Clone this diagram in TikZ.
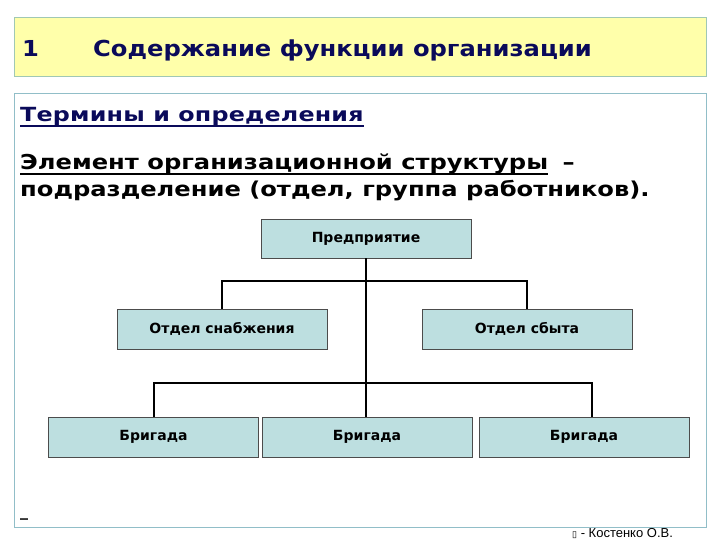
\documentclass[tikz,border=0pt]{standalone}
\usepackage{fontspec}
\setmainfont{DejaVu Sans}
\newfontfamily\termfont[FakeStretch=1.22,LetterSpace=1]{DejaVu Sans}
\newfontfamily\deffont[FakeStretch=1.18]{DejaVu Sans}
\newfontfamily\headfont[FakeStretch=1.1]{DejaVu Sans}
\newfontfamily\authorfont{Liberation Sans}
\usepackage{xcolor}
\usetikzlibrary{positioning}

\definecolor{titlefill}{RGB}{255,255,170}
\definecolor{titleline}{RGB}{160,200,180}
\definecolor{pageline}{RGB}{145,190,200}
\definecolor{boxblue}{RGB}{189,223,224}
\definecolor{navy}{RGB}{10,10,90}

\begin{document}
\begin{tikzpicture}[x=1pt, y=-1pt,
    orgbox/.style={draw=black!70, fill=boxblue, minimum width=210pt, minimum height=40pt,
      inner sep=0pt, font=\bfseries\fontsize{14}{16}\selectfont},
    plain/.style={anchor=base west, inner sep=0pt},
    tree/.style={line width=2pt}]
    \useasboundingbox (0,0) rectangle (720,540);

    % Title bar
    \draw[titleline, fill=titlefill, line width=1pt] (14,18) rectangle (706,77);
    \node[plain, text=navy, font=\headfont\bfseries\fontsize{22}{25}\selectfont] (num) at (22,57) {1};
    \node[plain, text=navy, font=\headfont\bfseries\fontsize{22}{25}\selectfont] (title) at (93,57) {Содержание функции организации};

    % Page frame
    \draw[pageline, line width=1pt] (14,94) rectangle (706,527);
    \node[plain, text=navy, font=\termfont\bfseries\fontsize{19.5}{22}\selectfont] (terms) at (20,121.5) {Термины и определения};
    \draw[navy, line width=1.6pt] ([yshift=-4.5pt]terms.base west) -- ([yshift=-4.5pt]terms.base east);

    \node[plain, font=\deffont\bfseries\fontsize{20.5}{28}\selectfont] (def1) at (20,169.5) {Элемент организационной структуры};
    \draw[line width=1.6pt] ([yshift=-4.5pt]def1.base west) -- ([yshift=-4.5pt]def1.base east);
    \node[plain, font=\deffont\bfseries\fontsize{20.5}{28}\selectfont, right=14pt of def1.base east, anchor=base west] (dash) {–};
    \node[plain, font=\deffont\bfseries\fontsize{20.5}{28}\selectfont] (def2) at (20,196.5) {подразделение (отдел, группа работников).};

    % Org chart
    \node[orgbox, minimum height=39pt] (ent) at (366,238.5) {Предприятие};
    \node[orgbox] (supply) at (222,329) {Отдел снабжения};
    \node[orgbox] (sales) at (527,329) {Отдел сбыта};
    \node[orgbox] (br1) at (153.5,437) {Бригада};
    \node[orgbox] (br2) at (367,437) {Бригада};
    \node[orgbox] (br3) at (584,437) {Бригада};

    \coordinate (j1) at (366,281);
    \coordinate (j2) at (366,383);
    \draw[tree] (ent.south) -- (j1) -- (j2) -- (j2 |- br2.north);
    \draw[tree] (supply.north) |- (j1) -| (sales.north);
    \draw[tree] (br1.north) |- (j2) -| ([xshift=8pt]br3.north);

    % Footer
    \node[plain, font=\bfseries\fontsize{16}{18}\selectfont] (mark) at (20,516) {\_};
    \node[plain, font=\authorfont\fontsize{13}{15}\selectfont] (author) at (572,537)
      {{\fontspec{DejaVu Sans}\fontsize{9}{11}\selectfont ▯} - Костенко О.В.};
\end{tikzpicture}
\end{document}
